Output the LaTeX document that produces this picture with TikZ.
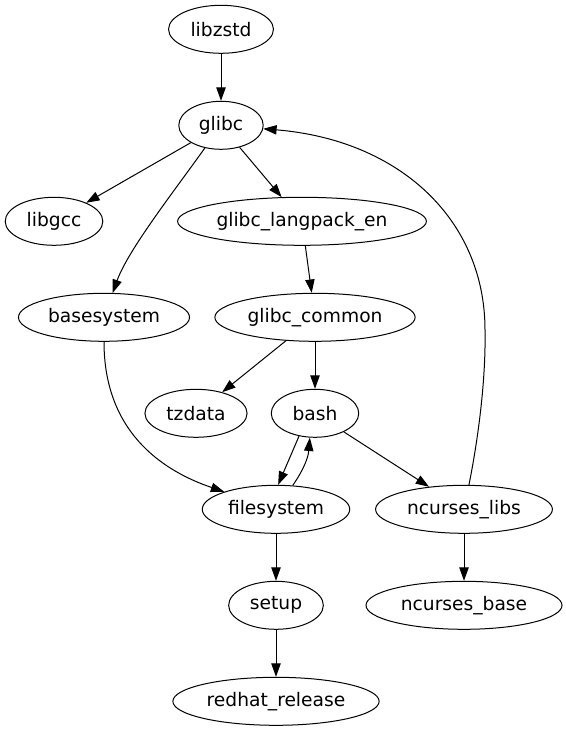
\documentclass[tikz,border=0pt]{standalone}
\usepackage{fontspec}
\setmainfont{DejaVu Sans}
\usetikzlibrary{shapes.geometric,arrows.meta}
\begin{document}
\begin{tikzpicture}[x=0.75pt,y=-0.75pt,
  pkg/.style={draw, ellipse, inner sep=0pt, minimum height=36pt, line width=0.75pt, font=\fontsize{14}{16}\selectfont},
  arr/.style={-{Triangle[length=10pt,width=7pt]}, line width=0.75pt},
]
\useasboundingbox (0,0) rectangle (566,731);
\node[pkg, minimum width=78.7pt]  (libzstd) at (221,29.3) {libzstd};
\node[pkg, minimum width=63.3pt]  (glibc)   at (221,125.3) {glibc};
\node[pkg, minimum width=73.2pt]  (libgcc)  at (54,221.3) {libgcc};
\node[pkg, minimum width=186.6pt] (lang)    at (302,221.3) {glibc\_langpack\_en};
\node[pkg, minimum width=128.3pt] (base)    at (104,317.3) {basesystem};
\node[pkg, minimum width=150.2pt] (common)  at (315,317.3) {glibc\_common};
\node[pkg, minimum width=76.6pt]  (tz)      at (196,413.3) {tzdata};
\node[pkg, minimum width=65.6pt]  (bash)    at (315,413.3) {bash};
\node[pkg, minimum width=110.6pt] (fs)      at (276,509.3) {filesystem};
\node[pkg, minimum width=132.6pt] (nlibs)   at (464,509.3) {ncurses\_libs};
\node[pkg, minimum width=71pt]    (setup)   at (276,605.3) {setup};
\node[pkg, minimum width=147pt]   (nbase)   at (464,605.3) {ncurses\_base};
\node[pkg, minimum width=154.7pt] (rh)      at (276,701.3) {redhat\_release};

\draw[arr] (libzstd) -- (glibc);
\draw[arr] (glibc) -- (libgcc);
\draw[arr] (glibc) -- (lang);
\draw[arr] (glibc) .. controls (175,190) and (128,250) .. (base);
\draw[arr] (lang) -- (common);
\draw[arr] (common) -- (tz);
\draw[arr] (common) -- (bash);
\draw[arr] (base) .. controls (104,430) and (160,470) .. (fs);
\draw[arr] (bash.235) -- (fs.85);
\draw[arr] (fs.55) to[bend right=15] (bash.258);
\draw[arr] (bash) -- (nlibs);
\draw[arr] (nlibs) .. controls (478,440) and (486,380) .. (485,330) .. controls (485,220) and (400,140) .. (glibc);
\draw[arr] (nlibs) -- (nbase);
\draw[arr] (fs) -- (setup);
\draw[arr] (setup) -- (rh);
\end{tikzpicture}
\end{document}
